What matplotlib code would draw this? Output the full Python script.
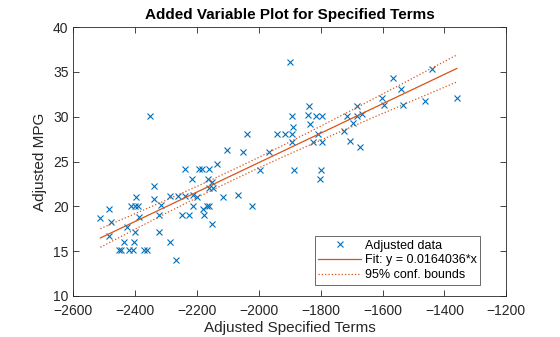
import numpy as np
import matplotlib.pyplot as plt

plt.rcParams['font.family'] = ['Liberation Sans', 'DejaVu Sans']

# Adjusted specified terms (x) and adjusted MPG (y)
adj_x = [
    -2512.6, -2484.5, -2477.0, -2484.5, -2426.3, -2436.9, -2452.2, -2444.7,
    -2419.8, -2406.9, -2412.4, -2401.4, -2390.7, -2396.2, -2388.4, -2401.4,
    -2403.6, -2372.2, -2361.6, -2351.9, -2338.9, -2338.9, -2317.3, -2321.8,
    -2322.7, -2286.2, -2268.7, -2287.2, -2260.3, -2238.6, -2211.8, -2198.9,
    -2116.7, -2066.2, -2213.7, -2166.5, -2160.0, -2179.4, -2022.9, -2249.3,
    -2224.7, -2177.2, -2151.3, -2238.6, -2192.4, -2184.6, -2160.0, -2216.9,
    -2163.3, -2152.3, -2160.0, -2147.1, -2134.1, -2103.7, -2050.0, -1996.0,
    -2037.1, -1965.9, -1942.0, -1915.1, -1893.5, -1890.2, -1893.5, -1893.5,
    -1886.0, -1898.9, -1839.7, -1836.5, -1834.2, -1814.8, -1796.4, -1807.4,
    -1823.6, -1796.4, -1799.6, -1801.9, -1724.3, -1713.6, -1681.2, -1667.0,
    -1681.2, -1694.1, -1704.8, -1672.5, -1602.3, -1594.8, -1564.8, -1540.8,
    -1532.4, -1462.2, -1440.5, -1359.7,
]
adj_y = [
    18.7, 19.7, 18.2, 16.7, 17.7, 16.0, 15.1, 15.1,
    15.1, 15.1, 20.0, 20.0, 20.0, 21.0, 18.8, 17.1,
    16.0, 15.1, 15.1, 30.1, 22.3, 20.8, 20.1, 19.0,
    17.1, 16.0, 14.0, 21.1, 21.1, 21.1, 21.3, 21.0,
    21.0, 21.3, 20.0, 20.0, 20.0, 19.7, 20.0, 19.0,
    19.0, 19.0, 18.0, 24.2, 24.2, 24.2, 24.2, 23.0,
    23.1, 22.7, 22.1, 22.1, 24.7, 26.3, 26.1, 24.1,
    28.1, 26.1, 28.1, 28.1, 28.1, 28.9, 27.2, 30.1,
    24.1, 36.1, 30.2, 31.2, 29.2, 30.1, 30.1, 28.1,
    27.2, 27.2, 24.1, 23.0, 28.4, 30.1, 30.1, 30.3,
    31.2, 29.3, 27.3, 26.6, 32.1, 31.3, 34.3, 33.1,
    31.3, 31.8, 35.3, 32.1,
]
slope = 0.0164036

x = np.array(adj_x)
y = np.array(adj_y)
n = len(x)
xm, ym = x.mean(), y.mean()
resid = y - (ym + slope * (x - xm))
s = np.sqrt(np.sum(resid ** 2) / (n - 2))
sxx = np.sum((x - xm) ** 2)
t = 1.986

xf = np.linspace(x.min(), x.max(), 200)
yf = ym + slope * (xf - xm)
hw = t * s * np.sqrt(1.0 / n + (xf - xm) ** 2 / sxx)

blue = '#0072BD'
orange = '#D95319'
axc = '#262626'

fig = plt.figure(figsize=(5.6, 3.37), dpi=100)
ax = fig.add_axes([0.131, 0.1217, 0.773, 0.798])

ax.plot(x, y, 'x', color=blue, markersize=5, markeredgewidth=0.8,
        label='Adjusted data')
ax.plot(xf, yf, '-', color=orange, linewidth=0.9,
        label='Fit: y = 0.0164036*x')
ax.plot(xf, yf + hw, ':', color=orange, linewidth=0.9,
        label='95% conf. bounds')
ax.plot(xf, yf - hw, ':', color=orange, linewidth=0.9)

ax.set_xlim(-2600, -1200)
ax.set_ylim(10, 40)
ax.set_xticks(np.arange(-2600, -1199, 200))
ax.set_yticks(np.arange(10, 41, 5))

ax.tick_params(direction='in', length=4, width=0.6, colors=axc,
               labelsize=10, top=True, right=True)
ax.tick_params(axis='x', pad=6)
for sp in ax.spines.values():
    sp.set_color(axc)
    sp.set_linewidth(0.6)

ax.set_title('Added Variable Plot for Specified Terms', fontsize=11,
             fontweight='bold', color='black', pad=6)
ax.set_xlabel('Adjusted Specified Terms', fontsize=11, color=axc, labelpad=2)
ax.set_ylabel('Adjusted MPG', fontsize=11, color=axc, labelpad=4)

leg = ax.legend(loc='lower right', bbox_to_anchor=(0.94, 0.041),
                borderaxespad=0, fontsize=9, fancybox=False, frameon=True,
                handlelength=3.4, handletextpad=0.3, labelspacing=0.22,
                borderpad=0.3, numpoints=1)
leg.get_frame().set_edgecolor(axc)
leg.get_frame().set_linewidth(0.6)
for txt in leg.get_texts():
    txt.set_color('black')

fig.savefig('out.png', dpi=100)
